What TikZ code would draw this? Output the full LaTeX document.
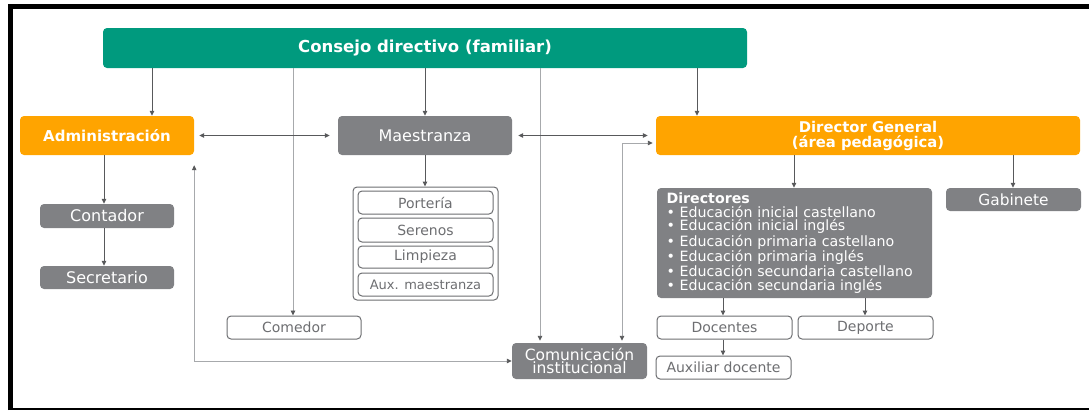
\documentclass[tikz,border=0pt]{standalone}
\usepackage{fontspec}
\setmainfont{DejaVu Sans}
\usepackage{tikz}
\usetikzlibrary{shapes,arrows.meta,positioning}
\definecolor{consejoteal}{HTML}{009A7E}
\definecolor{orgorange}{HTML}{FFA400}
\definecolor{orggray}{HTML}{808184}
\definecolor{edgegray}{HTML}{6D6E71}
\definecolor{linegray}{HTML}{58595B}
\definecolor{thingray}{HTML}{A7A9AC}
\tikzstyle{line} = [draw=linegray, -{Triangle[length=5pt,width=4.5pt]}, line width=1pt]
\tikzstyle{dline} = [draw=linegray, {Triangle[length=5pt,width=4.5pt]}-{Triangle[length=5pt,width=4.5pt]}, line width=1pt]
\tikzstyle{thinline} = [draw=thingray, -{Triangle[length=5pt,width=4.5pt,color=linegray]}, line width=0.9pt]
\tikzstyle{thindline} = [draw=thingray, {Triangle[length=5pt,width=4.5pt,color=linegray]}-{Triangle[length=5pt,width=4.5pt,color=linegray]}, line width=0.9pt]
\tikzstyle{tblock} = [rectangle, fill=consejoteal, text=white, rounded corners=4pt,
  font=\bfseries\fontsize{16.5}{18}\selectfont, inner sep=0pt]
\tikzstyle{oblock} = [rectangle, fill=orgorange, text=white, rounded corners=4pt,
  font=\bfseries\fontsize{14.8}{15}\selectfont, align=center, inner sep=0pt]
\tikzstyle{gblock} = [rectangle, fill=orggray, text=white, rounded corners=4pt,
  font=\fontsize{16}{13.5}\selectfont, align=center, inner sep=0pt]
\tikzstyle{wbox} = [rectangle, draw=edgegray, line width=1pt, fill=white, text=edgegray,
  rounded corners=4pt, font=\fontsize{14}{16}\selectfont, inner sep=0pt]

\begin{document}
\begin{tikzpicture}[x=1pt, y=-1pt]
    \useasboundingbox (0,0) rectangle (1089,410);
    % frame
    \draw [line width=5pt] (10.5,410) -- (10.5,6.5) -- (1089,6.5);
    \draw [line width=2pt] (8,409) -- (1089,409);

    \node [tblock, minimum width=644pt, minimum height=40pt] (consejo) at (425,48) {Consejo directivo (familiar)};
    \node [oblock, minimum width=174pt, minimum height=39pt, font=\bfseries\fontsize{15}{15}\selectfont] (admin) at (107,135.5) {Administración};
    \node [gblock, minimum width=174pt, minimum height=39pt] (maestranza) at (425,135.5) {Maestranza};
    \node [oblock, minimum width=424pt, minimum height=39pt] (dirgen) at (868,135.5) {Director General\\(área pedagógica)};

    \node [gblock, minimum width=134pt, minimum height=24pt] (contador) at (107,216) {Contador};
    \node [gblock, minimum width=134pt, minimum height=23pt] (secretario) at (107,277.5) {Secretario};

    \node [wbox, minimum width=145pt, minimum height=113pt] (maestgroup) at (425.5,243.5) {};
    \node [wbox, minimum width=135pt, minimum height=23pt] (porteria) at (425.5,202.5) {Portería};
    \node [wbox, minimum width=135pt, minimum height=24pt] (serenos) at (425.5,230) {Serenos};
    \node [wbox, minimum width=135pt, minimum height=22pt] (limpieza) at (425.5,257) {Limpieza};
    \node [wbox, minimum width=135pt, minimum height=23pt, font=\fontsize{13}{15}\selectfont] (auxmaest) at (425.5,284.5) {Aux. maestranza};

    \node [wbox, minimum width=134pt, minimum height=23pt] (comedor) at (294,327.5) {Comedor};
    \node [gblock, minimum width=135pt, minimum height=36pt, font=\fontsize{15.5}{13.5}\selectfont] (comunic) at (579.5,361) {Comunicación\\institucional};

    \node [gblock, minimum width=275pt, minimum height=110pt, text width=256pt, align=left,
      font=\fontsize{14.2}{13.6}\selectfont] (directores) at (794.5,243) {\textbf{Directores}\\
      \textbullet\ Educación inicial castellano\\
      \textbullet\ Educación inicial inglés\\
      \textbullet\ Educación primaria castellano\\
      \textbullet\ Educación primaria inglés\\
      \textbullet\ Educación secundaria castellano\\
      \textbullet\ Educación secundaria inglés};
    \node [gblock, minimum width=135pt, minimum height=23pt, font=\fontsize{15.4}{15}\selectfont] (gabinete) at (1013.5,199.5) {Gabinete};
    \node [wbox, minimum width=135pt, minimum height=23pt] (docentes) at (724.5,327.5) {Docentes};
    \node [wbox, minimum width=135pt, minimum height=23pt] (deporte) at (865.5,327.5) {Deporte};
    \node [wbox, minimum width=135pt, minimum height=23pt] (auxdoc) at (723.5,367.5) {Auxiliar docente};

    \path [line] (consejo.south -| 152,0) -- (admin.north -| 152,0);
    \path [line] (consejo.south -| 425,0) -- (maestranza.north -| 425,0);
    \path [line] (consejo.south -| 697,0) -- (dirgen.north -| 697,0);
    \path [thinline] (consejo.south -| 293,0) -- (comedor.north -| 293,0);
    \path [thinline, shorten >=2pt] (consejo.south -| 540,0) -- (comunic.north -| 540,0);

    \path [dline, shorten <=5pt, shorten >=8pt] (admin.east) -- (maestranza.west);
    \path [dline, shorten <=6pt, shorten >=8pt] (maestranza.east) -- (dirgen.west);
    \path [thindline, shorten >=10pt] (comunic.west) -| (admin.south east);
    \path [thindline, shorten <=2pt, shorten >=3pt] (comunic.north -| 622,0) |- (dirgen.west |- 0,143);

    \path [line] (admin.south -| 104,0) -- (contador.north -| 104,0);
    \path [line] (contador.south -| 104,0) -- (secretario.north -| 104,0);
    \path [line] (maestranza.south -| 425,0) -- (maestgroup.north -| 425,0);
    \path [line] (dirgen.south -| 794,0) -- (directores.north -| 794,0);
    \path [line] (dirgen.south -| 1013,0) -- (gabinete.north -| 1013,0);
    \path [line] (directores.south -| 723,0) -- (docentes.north -| 723,0);
    \path [line] (directores.south -| 865,0) -- (deporte.north -| 865,0);
    \path [line] (docentes.south -| 723,0) -- (auxdoc.north -| 723,0);
\end{tikzpicture}
\end{document}
